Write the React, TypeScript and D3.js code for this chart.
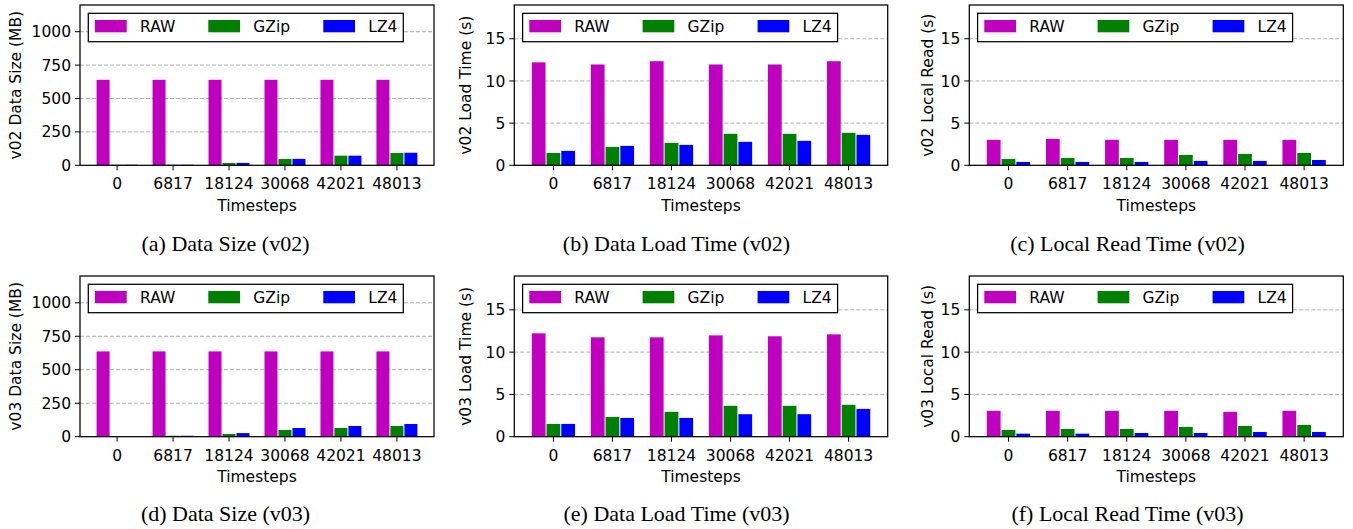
import React from "react";
import { scaleLinear } from "d3";

// categories / series
const timesteps = ["0", "6817", "18124", "30068", "42021", "48013"];
const seriesNames = ["RAW", "GZip", "LZ4"];
const seriesColors = ["#bf00bf", "#008000", "#0000ff"];

// v02
const v02SizeRaw = [640, 640, 640, 640, 640, 640];
const v02SizeGzip = [4, 4, 17, 47, 72, 92];
const v02SizeLz4 = [4, 4, 18, 48, 72, 94];
const v02LoadRaw = [12.2, 11.95, 12.34, 11.95, 11.95, 12.34];
const v02LoadGzip = [1.47, 2.18, 2.66, 3.73, 3.73, 3.85];
const v02LoadLz4 = [1.71, 2.3, 2.42, 2.78, 2.9, 3.61];
const v02ReadRaw = [3.02, 3.13, 3.02, 3.02, 3.02, 3.02];
const v02ReadGzip = [0.75, 0.87, 0.87, 1.23, 1.35, 1.47];
const v02ReadLz4 = [0.4, 0.4, 0.4, 0.52, 0.52, 0.63];

// v03
const v03SizeRaw = [637, 637, 637, 637, 637, 637];
const v03SizeGzip = [0.5, 7, 20, 50, 65, 80];
const v03SizeLz4 = [0.5, 7, 27, 65, 80, 95];
const v03LoadRaw = [12.22, 11.75, 11.75, 11.98, 11.87, 12.1];
const v03LoadGzip = [1.51, 2.34, 2.94, 3.65, 3.65, 3.77];
const v03LoadLz4 = [1.51, 2.22, 2.22, 2.66, 2.66, 3.29];
const v03ReadRaw = [3.06, 3.06, 3.06, 3.06, 2.94, 3.06];
const v03ReadGzip = [0.79, 0.91, 0.91, 1.15, 1.27, 1.39];
const v03ReadLz4 = [0.36, 0.36, 0.44, 0.44, 0.56, 0.56];

const sizeTicks = [0, 250, 500, 750, 1000];
const timeTicks = [0, 5, 10, 15];

const W = 1353;
const H = 529;
const FONT = "DejaVu Sans, sans-serif";
const FS = 15.5;

// layout per column / row
const cols = [
  { x0: 80, x1: 434, labelX: 15, capX: 225.5 },
  { x0: 514.3, x1: 887.7, labelX: 465, capX: 676.5 },
  { x0: 969.3, x1: 1343.3, labelX: 927, capX: 1127.5 },
];
const rows = [
  { y0: 5, y1: 165.3, capY: 251 },
  { y0: 276, y1: 436.7, capY: 521 },
];

const panels = [
  { r: 0, c: 0, label: "v02 Data Size (MB)", cap: "(a) Data Size (v02)", max: 1200, ticks: sizeTicks, data: [v02SizeRaw, v02SizeGzip, v02SizeLz4] },
  { r: 0, c: 1, label: "v02 Load Time (s)", cap: "(b) Data Load Time (v02)", max: 19, ticks: timeTicks, data: [v02LoadRaw, v02LoadGzip, v02LoadLz4] },
  { r: 0, c: 2, label: "v02 Local Read (s)", cap: "(c) Local Read Time (v02)", max: 19, ticks: timeTicks, data: [v02ReadRaw, v02ReadGzip, v02ReadLz4] },
  { r: 1, c: 0, label: "v03 Data Size (MB)", cap: "(d) Data Size (v03)", max: 1200, ticks: sizeTicks, data: [v03SizeRaw, v03SizeGzip, v03SizeLz4] },
  { r: 1, c: 1, label: "v03 Load Time (s)", cap: "(e) Data Load Time (v03)", max: 19, ticks: timeTicks, data: [v03LoadRaw, v03LoadGzip, v03LoadLz4] },
  { r: 1, c: 2, label: "v03 Local Read (s)", cap: "(f) Local Read Time (v03)", max: 19, ticks: timeTicks, data: [v03ReadRaw, v03ReadGzip, v03ReadLz4] },
];

const BAR_W = 0.25;
const legendOffsets = [6.7, 120, 235];

function Panel({ p }: { p: (typeof panels)[number] }) {
  const col = cols[p.c];
  const row = rows[p.r];
  const n = timesteps.length;
  const span = n - 1 + 3 * BAR_W;
  const pad = span * 0.05;
  const x = scaleLinear()
    .domain([-1.5 * BAR_W - pad, n - 1 + 1.5 * BAR_W + pad])
    .range([col.x0, col.x1]);
  const y = scaleLinear().domain([0, p.max]).range([row.y1, row.y0]);
  const bw = x(BAR_W) - x(0);
  const cy = (row.y0 + row.y1) / 2;
  const lx = col.x0 + 8.3;
  const ly = row.y0 + 8.3;

  return (
    <g>
      {/* grid */}
      {p.ticks.filter((t) => t > 0).map((t) => (
        <line key={"g" + t} x1={col.x0} x2={col.x1} y1={y(t)} y2={y(t)}
          stroke="#b0b0b0" strokeWidth={1} strokeDasharray="4,2" />
      ))}
      {/* bars */}
      {p.data.map((vals, s) =>
        vals.map((v, i) => {
          const cx = x(i + (s - 1) * BAR_W);
          return (
            <rect key={s + "-" + i} x={cx - bw / 2 + 0.5} width={bw - 1}
              y={y(v)} height={y(0) - y(v)} fill={seriesColors[s]} />
          );
        })
      )}
      {/* frame */}
      <rect x={col.x0} y={row.y0} width={col.x1 - col.x0} height={row.y1 - row.y0}
        fill="none" stroke="#000" strokeWidth={1.25} />
      {/* y ticks */}
      {p.ticks.map((t) => (
        <g key={"y" + t}>
          <line x1={col.x0 - 5} x2={col.x0} y1={y(t)} y2={y(t)} stroke="#000" strokeWidth={1} />
          <text x={col.x0 - 9} y={y(t)} dy="0.36em" textAnchor="end" fontFamily={FONT} fontSize={FS}>{t}</text>
        </g>
      ))}
      {/* x ticks */}
      {timesteps.map((t, i) => (
        <g key={"x" + t}>
          <line x1={x(i)} x2={x(i)} y1={row.y1} y2={row.y1 + 5} stroke="#000" strokeWidth={1} />
          <text x={x(i)} y={row.y1 + 24} textAnchor="middle" fontFamily={FONT} fontSize={FS}>{t}</text>
        </g>
      ))}
      <text x={(col.x0 + col.x1) / 2} y={row.y1 + 45.5} textAnchor="middle" fontFamily={FONT} fontSize={FS}>Timesteps</text>
      <text transform={`translate(${col.labelX},${cy}) rotate(-90)`} textAnchor="middle" dy="0.36em"
        fontFamily={FONT} fontSize={FS}>{p.label}</text>
      {/* legend */}
      <rect x={lx} y={ly} width={315} height={28.4} fill="#fff" stroke="#000" strokeWidth={1.25} />
      {seriesNames.map((name, s) => (
        <g key={name}>
          <rect x={lx + legendOffsets[s]} y={ly + 6.7} width={31.7} height={12.3} fill={seriesColors[s]} />
          <text x={lx + legendOffsets[s] + 45} y={ly + 19} fontFamily={FONT} fontSize={FS}>{name}</text>
        </g>
      ))}
      {/* caption */}
      <text x={col.capX} y={row.capY} textAnchor="middle" fontFamily="Liberation Serif, Times New Roman, serif" fontSize={22}>{p.cap}</text>
    </g>
  );
}

export default function App() {
  return (
    <>
      <style>{`body{margin:0}`}</style>
      <svg width={W} height={H} viewBox={`0 0 ${W} ${H}`} style={{ display: "block", background: "#fff" }}>
        {panels.map((p) => (
          <Panel key={p.cap} p={p} />
        ))}
      </svg>
    </>
  );
}
